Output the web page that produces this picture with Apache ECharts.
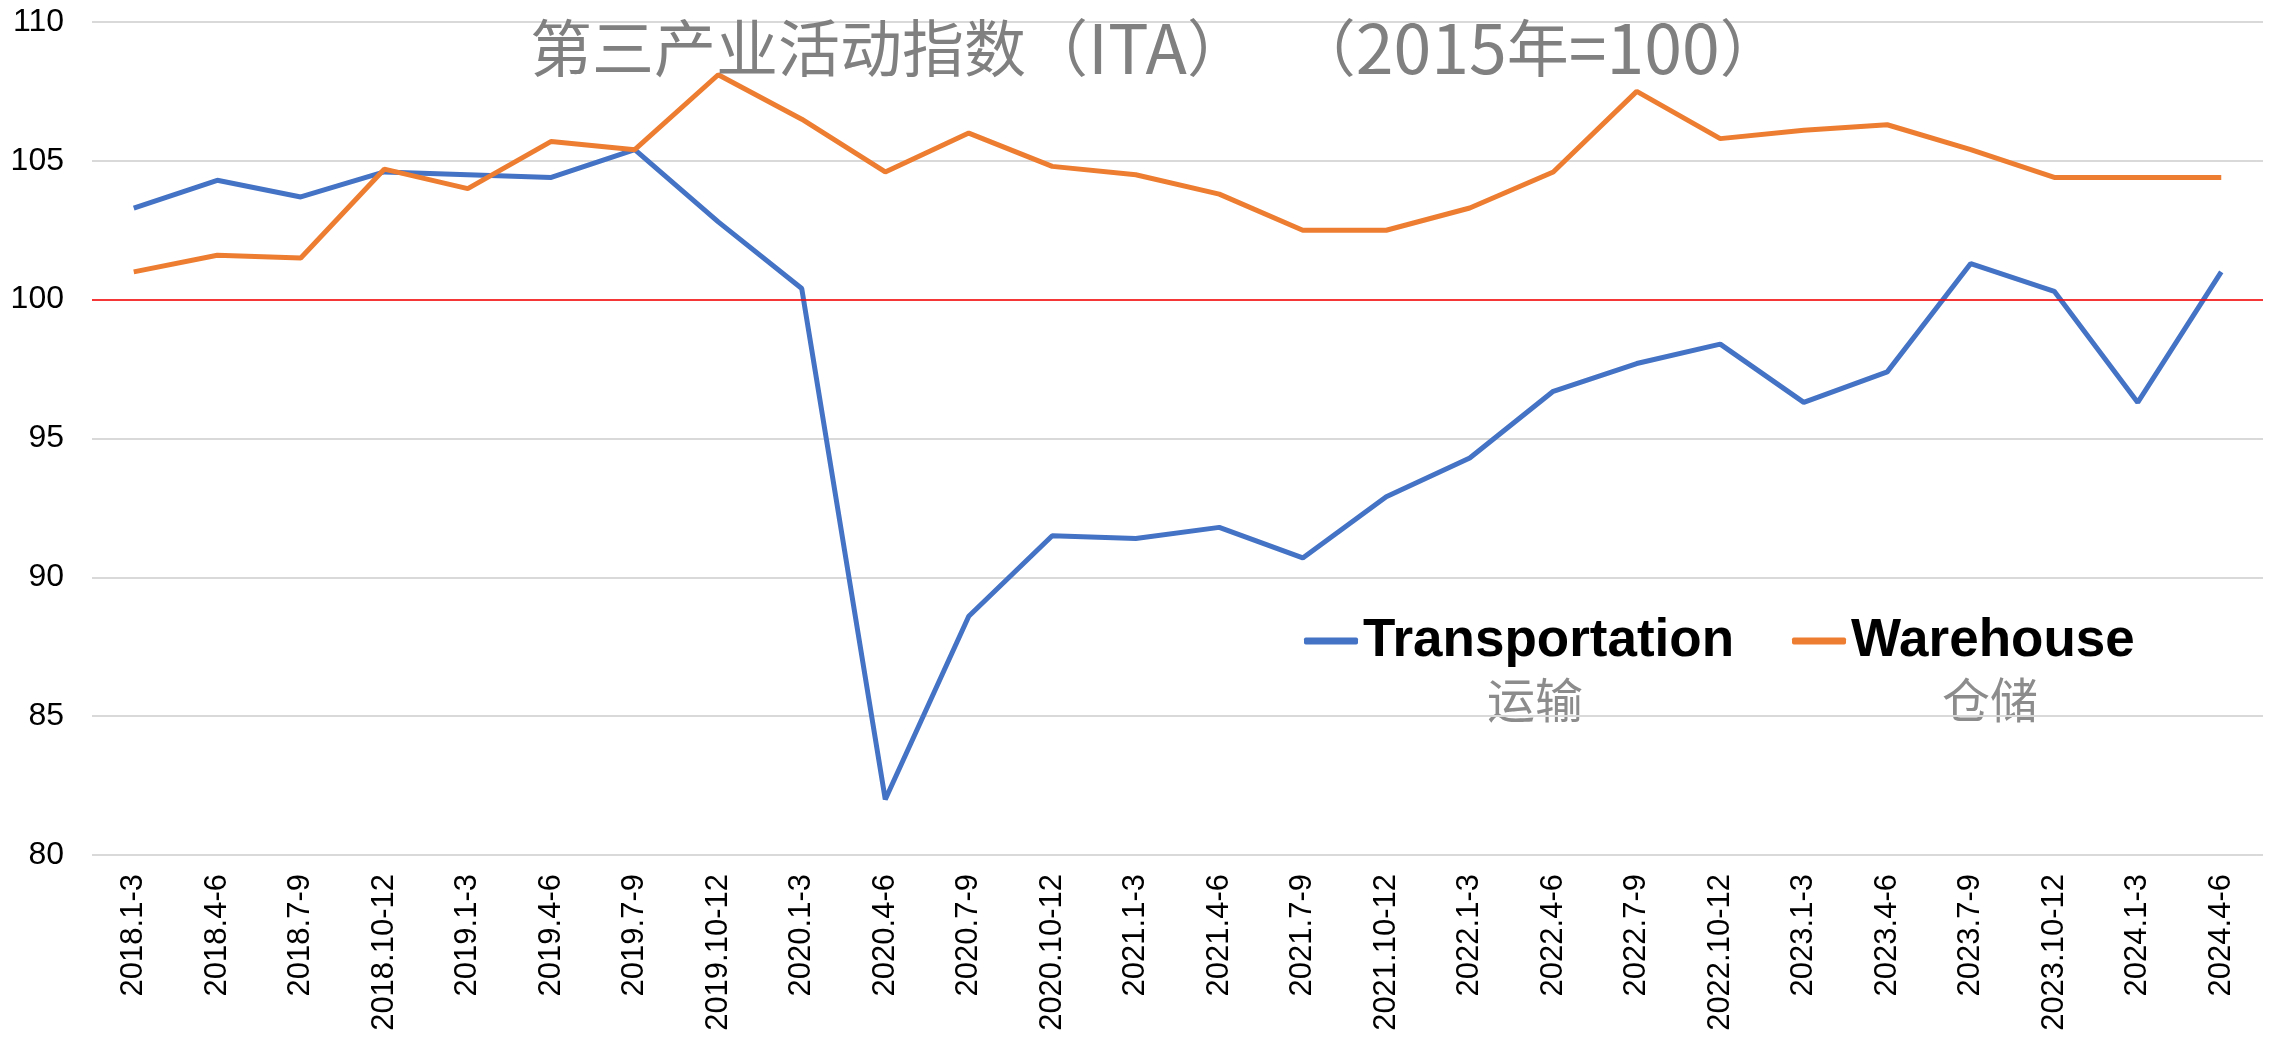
<!DOCTYPE html>
<html lang="zh-CN">
<head>
    <meta charset="UTF-8">
    <title>第三产业活动指数（ITA）</title>
    <script src="https://cdn.jsdelivr.net/npm/echarts@6/dist/echarts.min.js"></script>
    <style>
        html, body { margin: 0; padding: 0; background: #fff; }
        #chart { width: 2285px; height: 1041px; }
    </style>
</head>
<body>
    <div id="chart"></div>
    <script>
        // 季度
        const quarters = [
            '2018.1-3', '2018.4-6', '2018.7-9', '2018.10-12',
            '2019.1-3', '2019.4-6', '2019.7-9', '2019.10-12',
            '2020.1-3', '2020.4-6', '2020.7-9', '2020.10-12',
            '2021.1-3', '2021.4-6', '2021.7-9', '2021.10-12',
            '2022.1-3', '2022.4-6', '2022.7-9', '2022.10-12',
            '2023.1-3', '2023.4-6', '2023.7-9', '2023.10-12',
            '2024.1-3', '2024.4-6'
        ];

        // 运输
        const transportation = [
            103.3, 104.3, 103.7, 104.6, 104.5, 104.4, 105.4, 102.8,
            100.4, 82.0, 88.6, 91.5, 91.4, 91.8, 90.7, 92.9,
            94.3, 96.7, 97.7, 98.4, 96.3, 97.4, 101.3, 100.3,
            96.3, 101.0
        ];

        // 仓储
        const warehouse = [
            101.0, 101.6, 101.5, 104.7, 104.0, 105.7, 105.4, 108.1,
            106.5, 104.6, 106.0, 104.8, 104.5, 103.8, 102.5, 102.5,
            103.3, 104.6, 107.5, 105.8, 106.1, 106.3, 105.4, 104.4,
            104.4, 104.4
        ];

        const yMin = 80, yMax = 110, yStep = 5;
        const baseLine = 100;

        const chart = echarts.init(document.getElementById('chart'));

        const titleFont = 'Noto Sans CJK SC';

        const option = {
            animation: false,
            title: {
                // 数字和拉丁字母在原图里略大一些
                text: '{a|第三产业活动指数（}{b|ITA}{a|）\u3000 （}{b|2015}{a|年}{b|=100}{a|）}',
                left: 525,
                top: 8,
                textStyle: {
                    fontFamily: titleFont,
                    fontSize: 62,
                    fontWeight: 'normal',
                    color: '#808080',
                    rich: {
                        a: { fontFamily: titleFont, fontSize: 62, fontWeight: 'normal', color: '#808080', lineHeight: 70 },
                        b: { fontFamily: titleFont, fontSize: 68, fontWeight: 'normal', color: '#808080', lineHeight: 70 }
                    }
                }
            },
            legend: {
                left: 1299,
                top: 606,
                icon: 'roundRect',
                itemWidth: 54,
                itemHeight: 7,
                itemGap: 58,
                textStyle: {
                    fontFamily: 'Liberation Sans, Arial',
                    fontSize: 53,
                    fontWeight: 'bold',
                    color: '#000',
                    lineHeight: 60
                },
                data: ['Transportation', 'Warehouse']
            },
            graphic: [
                {
                    type: 'text', x: 1535, y: 700,
                    style: {
                        text: '运输', fill: '#8c8c8c', fontSize: 48,
                        fontFamily: titleFont, align: 'center', verticalAlign: 'middle'
                    }
                },
                {
                    type: 'text', x: 1990, y: 700,
                    style: {
                        text: '仓储', fill: '#8c8c8c', fontSize: 48,
                        fontFamily: titleFont, align: 'center', verticalAlign: 'middle'
                    }
                }
            ],
            grid: {
                left: 92,
                right: 22,
                top: 22,
                bottom: 186,
                containLabel: false
            },
            xAxis: {
                type: 'category',
                data: quarters,
                boundaryGap: true,
                axisLine: { show: false },
                axisTick: { show: false },
                axisLabel: {
                    rotate: 90,
                    interval: 0,
                    margin: 19,
                    fontFamily: 'Liberation Sans, Arial',
                    fontSize: 31,
                    color: '#000'
                }
            },
            yAxis: {
                type: 'value',
                min: yMin,
                max: yMax,
                interval: yStep,
                axisLine: { show: false },
                axisTick: { show: false },
                axisLabel: {
                    margin: 28,
                    fontFamily: 'Liberation Sans, Arial',
                    fontSize: 32,
                    color: '#000'
                },
                splitLine: {
                    lineStyle: { color: '#d9d9d9', width: 2 }
                }
            },
            series: [
                {
                    name: 'Transportation',
                    type: 'line',
                    data: transportation,
                    symbol: 'none',
                    itemStyle: { color: '#4472c4' },
                    lineStyle: { color: '#4472c4', width: 5 },
                    markLine: {
                        silent: true,
                        symbol: 'none',
                        label: { show: false },
                        lineStyle: { color: '#ff0000', width: 1.5, type: 'solid' },
                        data: [{ yAxis: baseLine }]
                    }
                },
                {
                    name: 'Warehouse',
                    type: 'line',
                    data: warehouse,
                    symbol: 'none',
                    itemStyle: { color: '#ed7d31' },
                    lineStyle: { color: '#ed7d31', width: 5 }
                }
            ]
        };

        chart.setOption(option);
        window.addEventListener('resize', () => chart.resize());
    </script>
</body>
</html>
